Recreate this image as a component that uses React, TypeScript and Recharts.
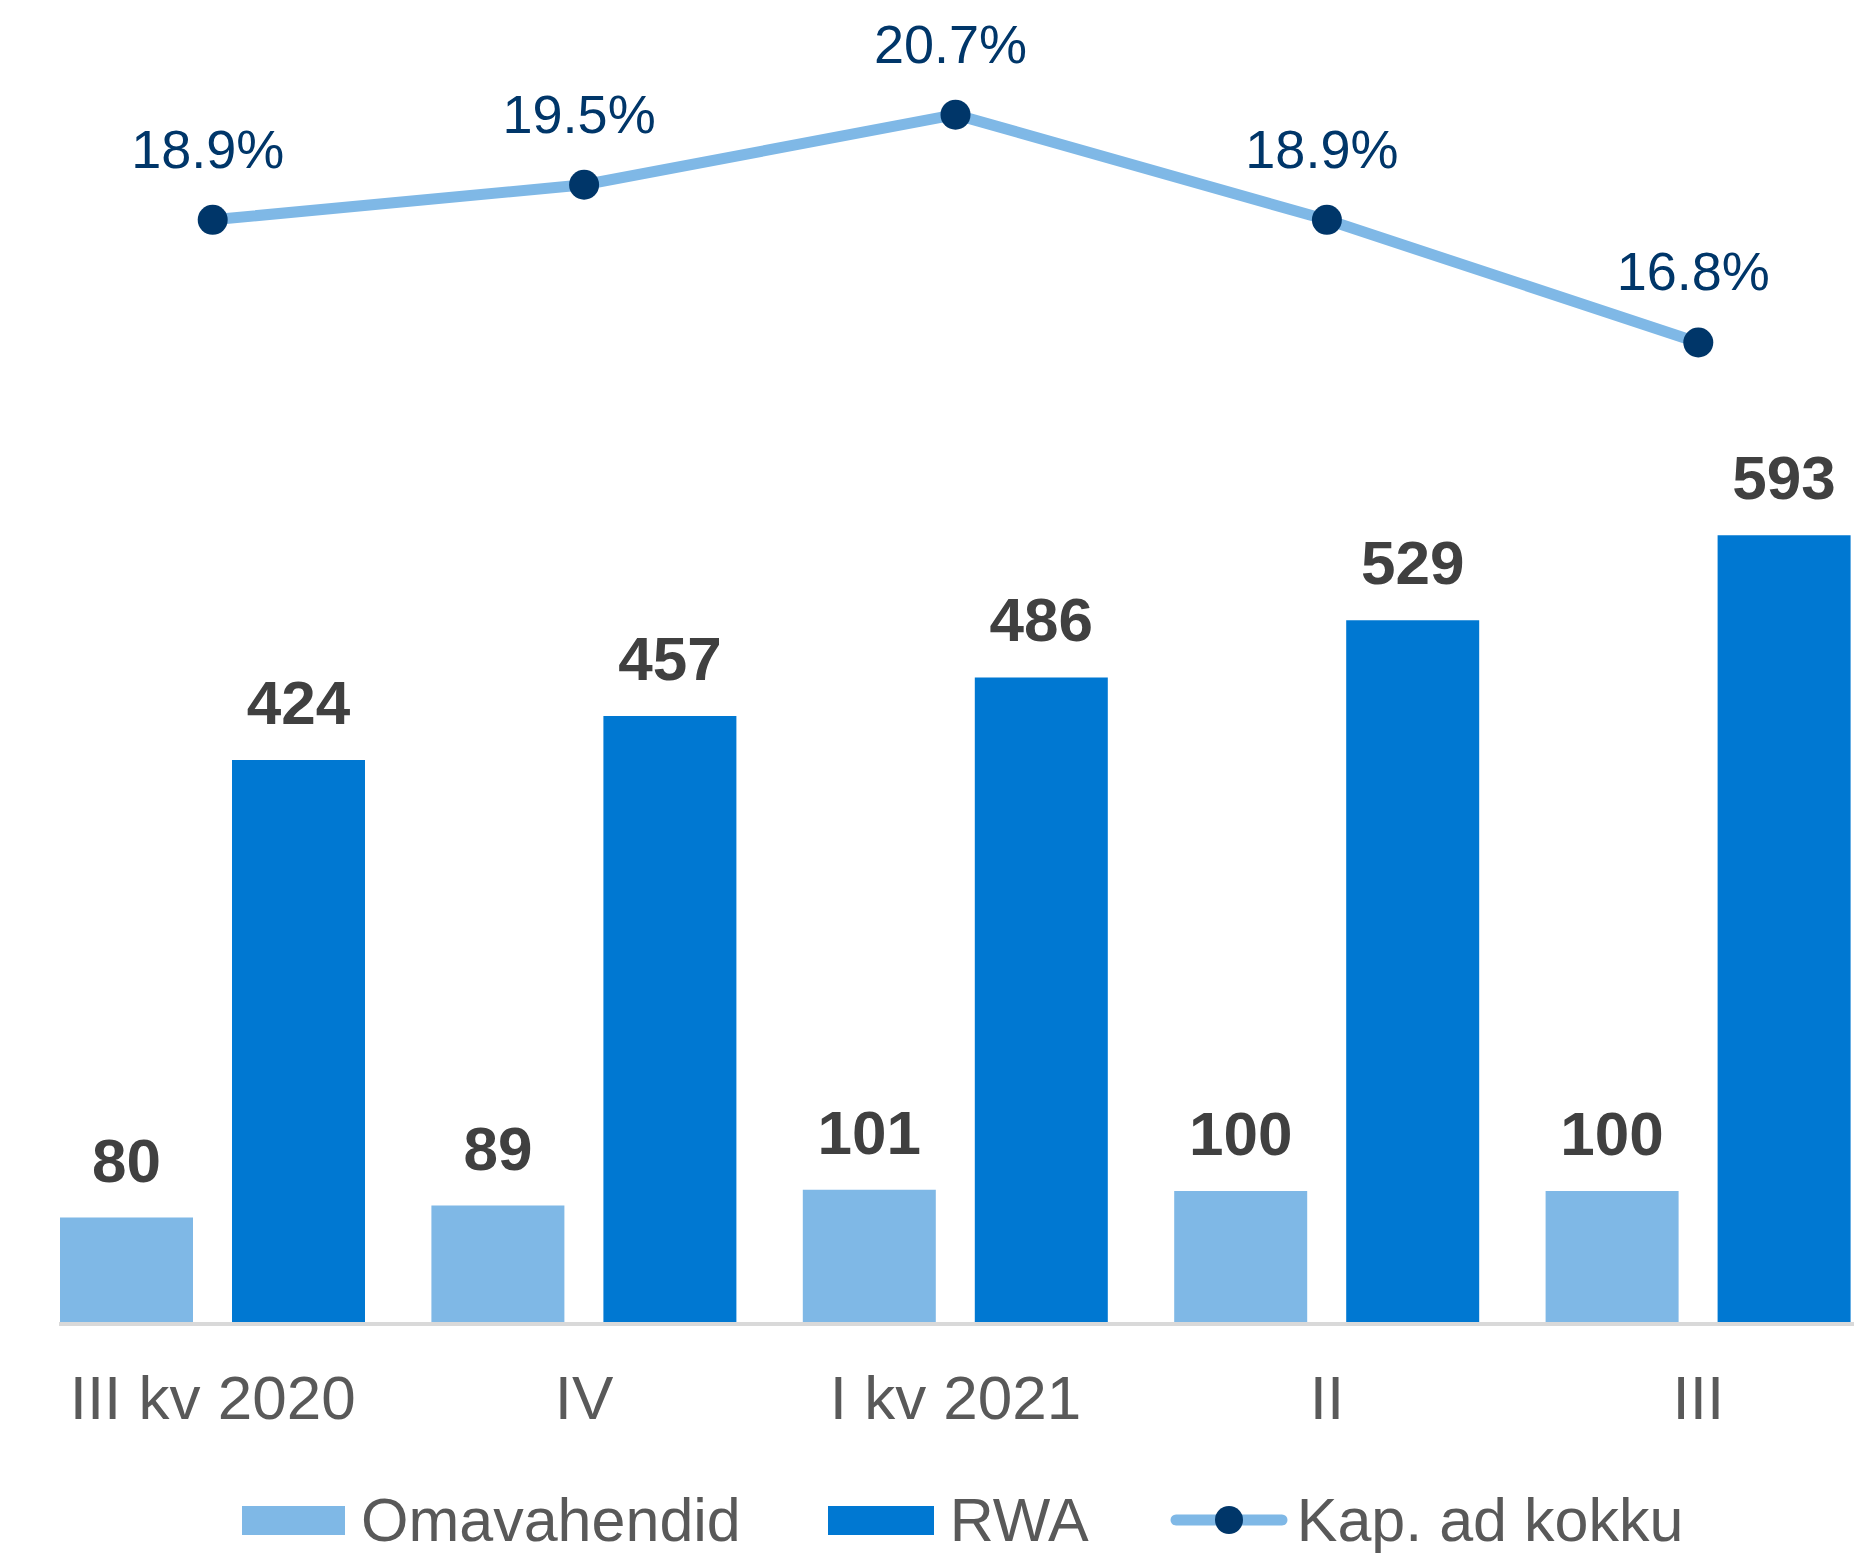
import React from 'react';
import { ComposedChart, Bar, Line, XAxis, YAxis, LabelList } from 'recharts';

const categories = ['III kv 2020', 'IV', 'I kv 2021', 'II', 'III'];
const omavahendid = [80, 89, 101, 100, 100];
const rwa = [424, 457, 486, 529, 593];
const kapAdKokku = [18.9, 19.5, 20.7, 18.9, 16.8];

const LIGHT = '#7FB8E6';
const DARK = '#0078D2';
const NAVY = '#003669';
const FONT = '"Liberation Sans", Arial, sans-serif';

const data = categories.map((cat, i) => ({
  cat,
  omavahendid: omavahendid[i],
  rwa: rwa[i],
  kap: kapAdKokku[i],
}));

const CategoryTick = (props: any) => {
  const { x, y, payload } = props;
  return (
    <text x={x} y={y + 95} textAnchor="middle" fontFamily={FONT} fontSize={62} fill="#595959">
      {payload.value}
    </text>
  );
};

const BarValue = (props: any) => {
  const { x, y, width, value } = props;
  return (
    <text
      x={x + width / 2}
      y={y - 36}
      textAnchor="middle"
      fontFamily={FONT}
      fontSize={62}
      fontWeight="bold"
      fill="#404040"
    >
      {value}
    </text>
  );
};

const PctValue = (props: any) => {
  const { x, y, value } = props;
  return (
    <text x={x - 5} y={y - 52} textAnchor="middle" fontFamily={FONT} fontSize={54} fill={NAVY}>
      {value.toFixed(1)}%
    </text>
  );
};

const textStyle: React.CSSProperties = {
  fontFamily: FONT,
  fontSize: 61,
  lineHeight: 1,
  color: '#595959',
};

function ChartLegend() {
  return (
    <div
      style={{
        position: 'absolute',
        left: 242,
        top: 1490,
        height: 60,
        display: 'flex',
        alignItems: 'center',
        whiteSpace: 'nowrap',
      }}
    >
      <span style={{ width: 103, height: 29, background: LIGHT, marginRight: 16 }} />
      <span style={{ ...textStyle, marginRight: 87 }}>Omavahendid</span>
      <span style={{ width: 106, height: 29, background: DARK, marginRight: 16 }} />
      <span style={{ ...textStyle, marginRight: 81 }}>RWA</span>
      <svg width={118} height={34} style={{ marginRight: 9 }}>
        <line x1={6} y1={17} x2={112} y2={17} stroke={LIGHT} strokeWidth={11} strokeLinecap="round" />
        <circle cx={59} cy={17} r={14} fill={NAVY} />
      </svg>
      <span style={textStyle}>Kap. ad kokku</span>
    </div>
  );
}

export default function App() {
  return (
    <div
      style={{
        position: 'absolute',
        left: 0,
        top: 0,
        width: 1854,
        height: 1553,
        overflow: 'hidden',
        background: '#ffffff',
      }}
    >
      <ComposedChart
        width={1884}
        height={1553}
        data={data}
        margin={{ top: 27, right: 0, left: 27, bottom: 0 }}
        barGap={39}
      >
        <XAxis
          dataKey="cat"
          height={229}
          interval={0}
          tickLine={false}
          tickSize={0}
          tickMargin={0}
          axisLine={{ stroke: '#D9D9D9', strokeWidth: 4, strokeDasharray: '0 32 5000' }}
          tick={<CategoryTick />}
        />
        <YAxis yAxisId="left" hide domain={[0, 975]} />
        <YAxis yAxisId="right" orientation="right" hide domain={[0, 22.2]} />
        <Bar yAxisId="left" dataKey="omavahendid" fill={LIGHT} barSize={133} isAnimationActive={false}>
          <LabelList dataKey="omavahendid" content={<BarValue />} />
        </Bar>
        <Bar yAxisId="left" dataKey="rwa" fill={DARK} barSize={133} isAnimationActive={false}>
          <LabelList dataKey="rwa" content={<BarValue />} />
        </Bar>
        <Line
          yAxisId="right"
          type="linear"
          dataKey="kap"
          stroke={LIGHT}
          strokeWidth={11}
          dot={{ r: 15, fill: NAVY, stroke: 'none' }}
          activeDot={false}
          isAnimationActive={false}
        >
          <LabelList dataKey="kap" content={<PctValue />} />
        </Line>
      </ComposedChart>
      <ChartLegend />
    </div>
  );
}
